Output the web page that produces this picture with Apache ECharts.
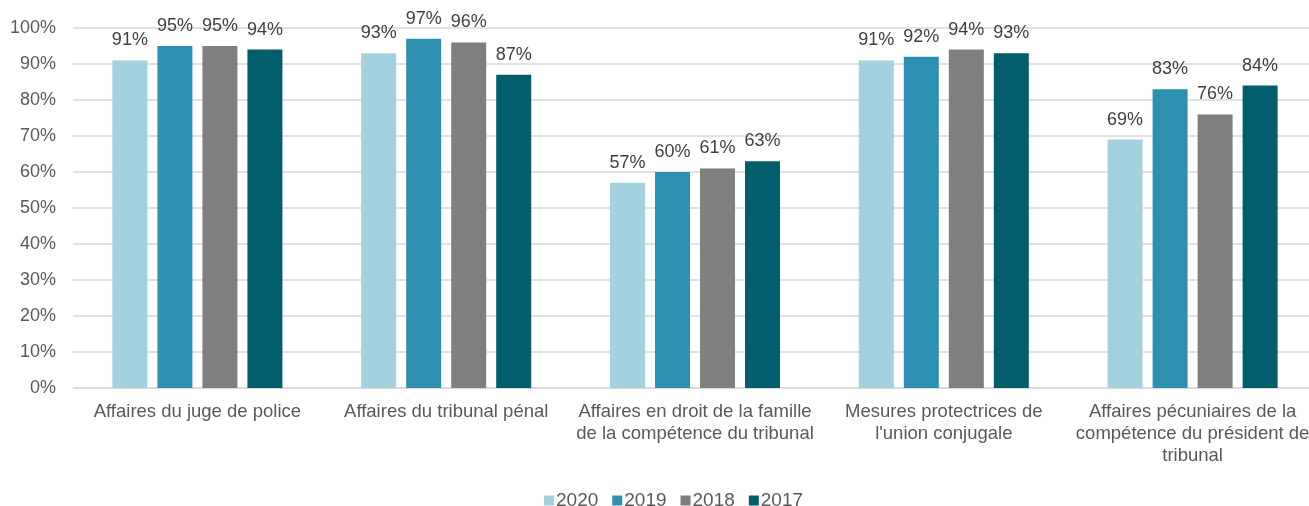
<!DOCTYPE html>
<html>
<head>
<meta charset="utf-8">
<script src="https://cdn.jsdelivr.net/npm/echarts@6/dist/echarts.min.js"></script>
<style>
  html, body { margin: 0; padding: 0; background: #fff; overflow: hidden; }
  #chart { width: 1320px; height: 506px; }
</style>
</head>
<body>
<div id="chart"></div>
<script>
const categories = [
  "Affaires du juge de police",
  "Affaires du tribunal pénal",
  "Affaires en droit de la famille\nde la compétence du tribunal",
  "Mesures protectrices de\nl'union conjugale",
  "Affaires pécuniaires de la\ncompétence du président de\ntribunal"
];
const years = ["2020", "2019", "2018", "2017"];
const values2020 = [91, 93, 57, 91, 69];
const values2019 = [95, 97, 60, 92, 83];
const values2018 = [95, 96, 61, 94, 76];
const values2017 = [94, 87, 63, 93, 84];
const yTicks = [0, 10, 20, 30, 40, 50, 60, 70, 80, 90, 100];

const colors = ["#a3d2de", "#2e90b0", "#7f7f7f", "#025e6d"];
const seriesData = [values2020, values2019, values2018, values2017];
const font = "Liberation Sans, Arial, sans-serif";

const chart = echarts.init(document.getElementById("chart"));
chart.setOption({
  animation: false,
  textStyle: { fontFamily: font },
  color: colors,
  grid: { left: 73, top: 28, width: 1244, height: 360, containLabel: false },
  legend: {
    top: 486,
    left: 539,
    itemWidth: 10,
    itemHeight: 10,
    itemGap: 14,
    icon: "rect",
    textStyle: { fontSize: 19, color: "#595959", fontFamily: font, padding: [0, 0, 0, -3] },
    data: years
  },
  xAxis: {
    type: "category",
    data: categories,
    axisLine: { lineStyle: { color: "#d9d9d9", width: 1.5 } },
    axisTick: { show: false },
    axisLabel: { fontSize: 18.5, color: "#595959", lineHeight: 22, margin: 13, interval: 0, fontFamily: font }
  },
  yAxis: {
    type: "value",
    min: yTicks[0],
    max: yTicks[yTicks.length - 1],
    interval: 10,
    axisLine: { show: false },
    axisTick: { show: false },
    splitLine: { lineStyle: { color: "#d9d9d9", width: 1.5 } },
    axisLabel: { fontSize: 18, color: "#595959", margin: 17, fontFamily: font, formatter: v => v + "%" }
  },
  series: years.map((y, i) => ({
    name: y,
    type: "bar",
    data: seriesData[i],
    barWidth: 35,
    barGap: "28.6%",
    label: {
      show: true,
      position: "top",
      distance: 11,
      fontSize: 18,
      color: "#404040",
      fontFamily: font,
      formatter: p => p.value + "%"
    }
  }))
});
</script>
</body>
</html>
